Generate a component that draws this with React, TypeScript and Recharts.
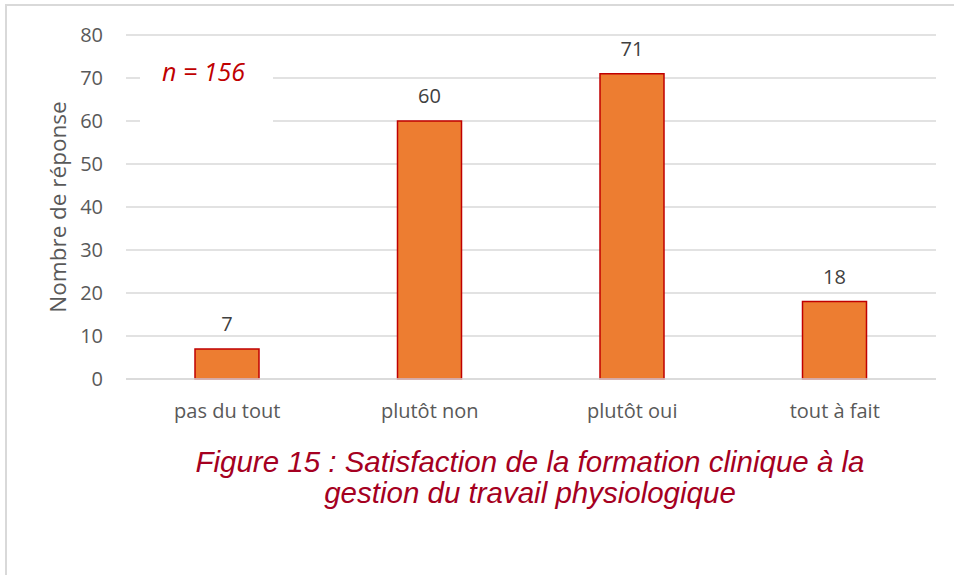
import { Bar, BarChart, CartesianGrid, LabelList, XAxis, YAxis } from "recharts";

const categories = ["pas du tout", "plutôt non", "plutôt oui", "tout à fait"];
const responses = [7, 60, 71, 18];
const yTicks = [0, 10, 20, 30, 40, 50, 60, 70, 80];
const sampleNote = "n = 156";
const captionLines = [
  "Figure 15 : Satisfaction de la formation clinique à la",
  "gestion du travail physiologique",
];

const data = categories.map((label, i) => ({ label, value: responses[i] }));

const font = "'Open Sans', sans-serif";

export default function App() {
  return (
    <div style={{ position: "absolute", left: 0, top: 0, width: 954, height: 575, background: "#fff", overflow: "hidden" }}>
      <div style={{ position: "absolute", left: 5, top: 4, width: 949, height: 571, borderLeft: "2px solid #d9d9d9", borderTop: "2px solid #d9d9d9" }} />
      <BarChart width={954} height={575} data={data} margin={{ top: 35, right: 18, bottom: 156, left: 0 }}>
        <CartesianGrid stroke="#d9d9d9" strokeWidth={1.5} vertical={false} />
        <XAxis
          dataKey="label"
          height={40}
          axisLine={{ stroke: "#d9d9d9", strokeWidth: 1.5 }}
          tickLine={false}
          tickMargin={19}
          tick={{ fill: "#595959", fontSize: 20, fontFamily: font }}
        />
        <YAxis
          width={126}
          domain={[0, 80]}
          ticks={yTicks}
          axisLine={false}
          tickLine={false}
          tickMargin={17}
          tick={{ fill: "#595959", fontSize: 20, fontFamily: font }}
          label={{ value: "Nombre de réponse", angle: -90, position: "insideLeft", offset: 0, dx: 58, style: { fill: "#595959", fontSize: 22.5, fontFamily: font, textAnchor: "middle" } }}
        />
        <Bar dataKey="value" fill="#ED7D31" stroke="#C00000" strokeWidth={1.5} barSize={64} isAnimationActive={false}>
          <LabelList dataKey="value" position="top" offset={18} style={{ fill: "#404040", fontSize: 20, fontFamily: font }} />
        </Bar>
      </BarChart>
      <div style={{ position: "absolute", left: 140, top: 48, width: 133, height: 90, background: "#fff" }}>
        <div style={{ position: "absolute", left: 22, top: 6, fontFamily: font, fontStyle: "italic", fontSize: 25, color: "#C00000", whiteSpace: "nowrap" }}>
          {sampleNote}
        </div>
      </div>
      <div style={{ position: "absolute", left: 80, width: 900, top: 446, textAlign: "center", fontFamily: "'Liberation Sans', Arial, sans-serif", fontStyle: "italic", fontSize: 29.5, lineHeight: "31px", color: "#A50021" }}>
        {captionLines.map((line) => (
          <div key={line}>{line}</div>
        ))}
      </div>
    </div>
  );
}
